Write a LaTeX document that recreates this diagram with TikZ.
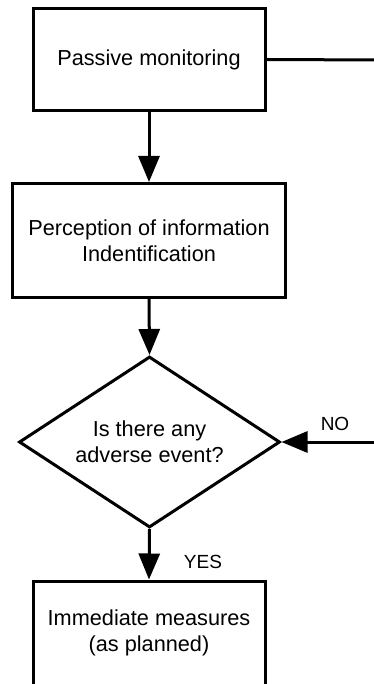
\documentclass[tikz,border=0pt]{standalone}
\usepackage{fontspec}
\setmainfont{Liberation Sans}
\usetikzlibrary{arrows.meta,shapes.geometric}
\begin{document}
\begin{tikzpicture}[x=1pt,y=-1pt,
  box/.style={draw,line width=3pt,rectangle,inner sep=0pt,align=center,
    font=\fontsize{21.7}{26}\selectfont},
  decision/.style={draw,line width=3pt,diamond,aspect=1.52,inner sep=0pt,align=center,
    minimum width=261pt,minimum height=171pt,font=\fontsize{21.7}{26}\selectfont},
  conn/.style={line width=3pt},
  arr/.style={line width=3pt,-{Triangle[length=26pt,width=21pt]}},
  lbl/.style={font=\fontsize{19}{22}\selectfont,inner sep=0pt}]
\useasboundingbox (0,0) rectangle (373,684);
\node[box,minimum width=232pt,minimum height=102pt] (b1) at (149,59.5) {Passive monitoring};
\node[box,minimum width=273pt,minimum height=114pt] (b2) at (149,240.5) {Perception of information\\Indentification};
\node[decision] (d) at (149.5,442) {Is there any\\adverse event?};
\node[box,minimum width=232pt,minimum height=104pt] (b3) at (149,633) {Immediate measures\\(as planned)};
\coordinate (r1) at (380,60);
\coordinate (r2) at (380,442);
\draw[conn] (b1.east) -- (r1);
\draw[arr] (b1.south) -- (b2.north);
\draw[arr] (b2.south) -- (d.north);
\draw[arr] (d.south) -- (b3.north);
\draw[arr] (r2) -- (d.east);
\node[lbl] (no) at (335,424) {NO};
\node[lbl] (yes) at (203,562) {YES};
\end{tikzpicture}
\end{document}
